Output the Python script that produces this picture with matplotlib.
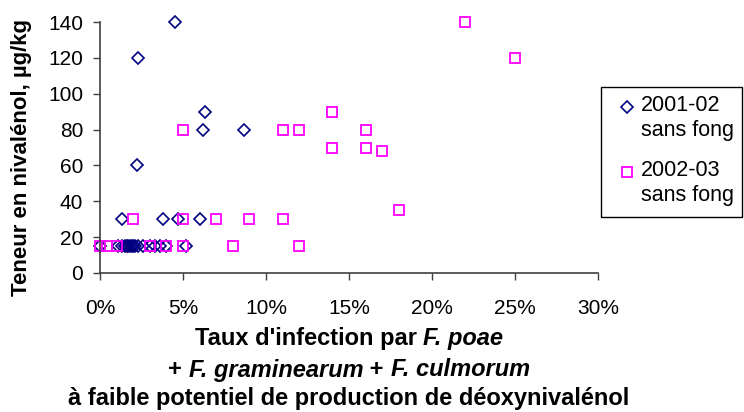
import matplotlib
matplotlib.use("Agg")
import matplotlib.pyplot as plt
from matplotlib.lines import Line2D
from matplotlib.patches import Rectangle
from matplotlib.ticker import FixedLocator, FuncFormatter

# Infection rate (%) and nivalenol content (µg/kg), season 2001-02 without fungicide
x_0102 = [4.5, 2.3, 6.3, 6.2, 8.7, 2.2,
          1.3, 3.8, 4.7, 6.0,
          0.0, 1.1, 1.3, 1.5, 1.6, 1.7, 1.8, 1.9, 2.0, 2.1, 2.3,
          2.6, 3.0, 3.3, 3.6, 4.0, 5.2]
y_0102 = [140, 120, 90, 80, 80, 60,
          30, 30, 30, 30,
          15, 15, 15, 15, 15, 15, 15, 15, 15, 15, 15,
          15, 15, 15, 15, 15, 15]

# Season 2002-03 without fungicide
x_0203 = [22, 25, 14, 5, 11, 12, 16, 14, 16, 17, 18,
          2, 5, 7, 9, 11,
          0.0, 0.45, 1.0, 3.0, 4.0, 5.0, 8.0, 12.0]
y_0203 = [140, 120, 90, 80, 80, 80, 80, 70, 70, 68, 35,
          30, 30, 30, 30, 30,
          15, 15, 15, 15, 15, 15, 15, 15]

labels = ["2001-02\nsans fong", "2002-03\nsans fong"]
x_ticks = [0, 5, 10, 15, 20, 25, 30]
y_ticks = [0, 20, 40, 60, 80, 100, 120, 140]

plt.rcParams["font.family"] = ["Liberation Sans", "DejaVu Sans"]

W, H = 744, 412
fig = plt.figure(figsize=(W / 100, H / 100), dpi=100)
ax = fig.add_axes([100 / W, 1 - 273 / H, 498 / W, 251 / H])

styles = [
    dict(marker="D", markersize=6.0, markerfacecolor="none",
         markeredgecolor="#000080", markeredgewidth=1.2),
    dict(marker="s", markersize=6.5, markerfacecolor="none",
         markeredgecolor="#FF00FF", markeredgewidth=1.3),
]
ax.plot(x_0102, y_0102, linestyle="none", clip_on=False, **styles[0])
ax.plot(x_0203, y_0203, linestyle="none", clip_on=False, **styles[1])

ax.set_xlim(0, 30)
ax.set_ylim(0, 140)
ax.xaxis.set_major_locator(FixedLocator(x_ticks))
ax.yaxis.set_major_locator(FixedLocator(y_ticks))
ax.xaxis.set_major_formatter(FuncFormatter(lambda v, p: f"{v:.0f}%"))

for s in ("top", "right"):
    ax.spines[s].set_visible(False)
for s in ("left", "bottom"):
    ax.spines[s].set_color("#404040")
    ax.spines[s].set_linewidth(1.2)
ax.tick_params(axis="both", direction="out", length=5, width=1.0, color="#404040",
               labelsize=15)
ax.tick_params(axis="y", pad=7)
ax.tick_params(axis="x", pad=14)

# Legend box with markers beside the first line of each label
fig.add_artist(Rectangle((601 / W, 1 - 217 / H), 141 / W, 130 / H,
                         transform=fig.transFigure, facecolor="white",
                         edgecolor="black", linewidth=1.0))
for (ytop, lab, st) in zip([107, 172], labels, styles):
    fig.add_artist(Line2D([627 / W], [1 - ytop / H], transform=fig.transFigure,
                          linestyle="none", **st))
    fig.text(641 / W, 1 - (ytop - 12) / H, lab, fontsize=15.5, ha="left", va="top",
             linespacing=1.25)

fig.text(22 / W, 1 - 158 / H, "Teneur en nivalénol, µg/kg", rotation=90,
         ha="center", va="center", fontsize=16, fontweight="bold")

# Three-line axis title with italic species names
renderer = fig.canvas.get_renderer()
cx = 349
lines = [
    (338, [("Taux d'infection par ", "normal"), ("F. poae", "italic")]),
    (370, [("+ ", "normal"), ("F. graminearum", "italic"), (" + ", "normal"),
           ("F. culmorum", "italic")]),
    (399, [("à faible potentiel de production de déoxynivalénol", "normal")]),
]
for ypix, parts in lines:
    texts = []
    for txt, style in parts:
        t = fig.text(0, 1 - ypix / H, txt, fontsize=17, fontweight="bold",
                     fontstyle=style, ha="left", va="center")
        texts.append(t)
    widths = [t.get_window_extent(renderer).width for t in texts]
    xpos = cx - sum(widths) / 2
    for t, w in zip(texts, widths):
        t.set_x(xpos / W)
        xpos += w

fig.savefig("out.png", dpi=100)
